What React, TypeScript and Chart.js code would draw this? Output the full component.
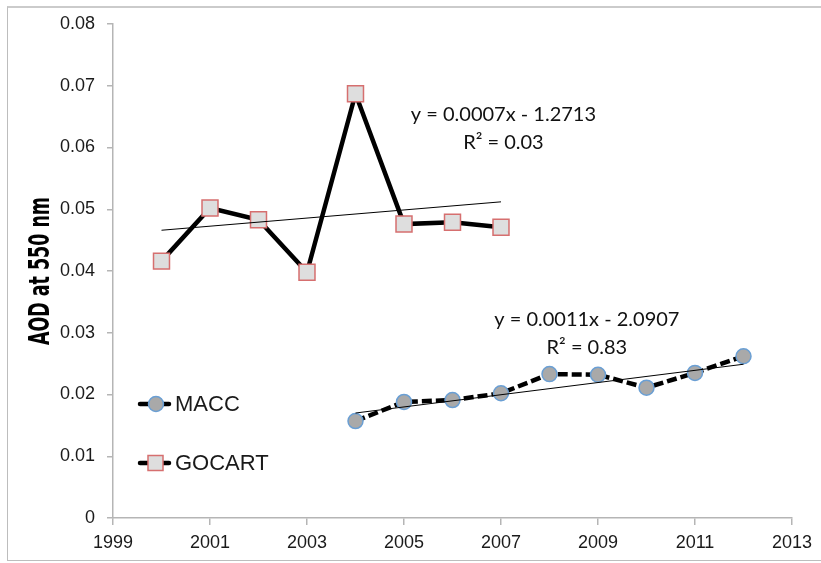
import React, { useEffect, useRef } from "react";
import { Chart, registerables } from "chart.js";

Chart.register(...registerables);

// ---- data ----
const gocartYears = [2000, 2001, 2002, 2003, 2004, 2005, 2006, 2007];
const gocartAod = [0.0416, 0.0502, 0.0483, 0.0398, 0.0687, 0.0476, 0.0479, 0.0471];
const maccYears = [2004, 2005, 2006, 2007, 2008, 2009, 2010, 2011, 2012];
const maccAod = [0.0157, 0.0188, 0.0191, 0.0202, 0.0233, 0.0232, 0.0211, 0.0235, 0.0262];
const gocartTrendYears = [2000, 2007];
const gocartTrendAod = [0.0466, 0.0512];
const maccTrendYears = [2004, 2012];
const maccTrendAod = [0.0170, 0.0249];
const gocartTrendText = ["y = 0.0007x - 1.2713", "R² = 0.03"];
const maccTrendText = ["y = 0.0011x - 2.0907", "R² = 0.83"];
const seriesLabels = ["MACC", "GOCART"];
const yAxisTitle = "AOD at 550 nm";
const xRange = [1999, 2013];
const yRange = [0, 0.08];

// ---- layout / style (not data) ----
const W = 821;
const H = 563;
const TICK_FONT = { family: "'Liberation Sans', Arial, Helvetica, sans-serif", size: 18 };
const ANNOT_FONT = "20px Lato, 'Open Sans', sans-serif";
const gocartAnnotAt = { x: 2007.05, y: 0.0653, dy: 28 };
const maccAnnotAt = { x: 2008.77, y: 0.0321, dy: 28 };

const pts = (xs: number[], ys: number[]) => xs.map((x, i) => ({ x, y: ys[i] }));

const annotPlugin = {
  id: "annot",
  afterDatasetsDraw(chart: any) {
    const { ctx, scales, chartArea } = chart;
    ctx.save();
    ctx.fillStyle = "#111";
    ctx.font = ANNOT_FONT;
    ctx.textAlign = "center";
    ctx.textBaseline = "middle";
    const draw = (lines: string[], at: { x: number; y: number; dy: number }) => {
      const px = scales.x.getPixelForValue(at.x);
      const py = scales.y.getPixelForValue(at.y);
      lines.forEach((t, i) => ctx.fillText(t, px, py + i * at.dy));
    };
    draw(gocartTrendText, gocartAnnotAt);
    draw(maccTrendText, maccAnnotAt);

    // legend inside plot
    const left = chartArea.left;
    const items = [
      { label: seriesLabels[0], y: 404, style: "circle" },
      { label: seriesLabels[1], y: 463, style: "rect" },
    ];
    items.forEach((it) => {
      ctx.strokeStyle = "#000";
      ctx.lineWidth = 4.5;
      ctx.setLineDash([]);
      ctx.lineCap = "round";
      ctx.beginPath();
      ctx.moveTo(left + 27, it.y);
      ctx.lineTo(left + 56, it.y);
      ctx.stroke();
      ctx.lineCap = "butt";
      ctx.lineWidth = 1.5;
      if (it.style === "circle") {
        ctx.beginPath();
        ctx.arc(left + 43, it.y, 7.5, 0, Math.PI * 2);
        ctx.fillStyle = "#a9a9a9";
        ctx.fill();
        ctx.strokeStyle = "#6a9fd4";
        ctx.stroke();
      } else {
        ctx.fillStyle = "#dedede";
        ctx.fillRect(left + 35, it.y - 7.5, 15, 15);
        ctx.strokeStyle = "#d66f6f";
        ctx.strokeRect(left + 35, it.y - 7.5, 15, 15);
      }
      ctx.fillStyle = "#1a1a1a";
      ctx.font = "22px 'Liberation Sans', Arial, sans-serif";
      ctx.textAlign = "left";
      ctx.textBaseline = "middle";
      ctx.fillText(it.label, left + 62, it.y + 1);
    });

    // y-axis title (heavy condensed)
    ctx.font = "bold 29px 'DejaVu Sans', sans-serif";
    const tw = ctx.measureText(yAxisTitle).width;
    const target = 148;
    const cy = (chartArea.top + chartArea.bottom) / 2;
    ctx.translate(40, cy);
    ctx.rotate(-Math.PI / 2);
    ctx.scale(target / tw, 1);
    ctx.fillStyle = "#000";
    ctx.textAlign = "center";
    ctx.textBaseline = "middle";
    ctx.fillText(yAxisTitle, 0, 1);
    ctx.restore();
  },
};

export default function App() {
  const ref = useRef<HTMLCanvasElement | null>(null);
  useEffect(() => {
    if (!ref.current) return;
    const chart = new Chart(ref.current, {
      type: "line",
      data: {
        datasets: [
          {
            label: "GOCART trend",
            data: pts(gocartTrendYears, gocartTrendAod),
            borderColor: "#000",
            borderWidth: 1,
            pointRadius: 0,
            order: 0,
          },
          {
            label: "MACC trend",
            data: pts(maccTrendYears, maccTrendAod),
            borderColor: "#000",
            borderWidth: 1,
            pointRadius: 0,
            order: 0,
          },
          {
            label: seriesLabels[0],
            data: pts(maccYears, maccAod),
            borderColor: "#000",
            borderWidth: 4.5,
            borderDash: [10, 4],
            pointStyle: "circle",
            pointRadius: 7.5,
            pointBackgroundColor: "#a9a9a9",
            pointBorderColor: "#6a9fd4",
            pointBorderWidth: 1.5,
            order: 1,
          },
          {
            label: seriesLabels[1],
            data: pts(gocartYears, gocartAod),
            borderColor: "#000",
            borderWidth: 4.5,
            pointStyle: "rect",
            pointRadius: 11.3,
            pointBackgroundColor: "#dedede",
            pointBorderColor: "#d66f6f",
            pointBorderWidth: 1.5,
            order: 1,
          },
        ],
      },
      options: {
        responsive: false,
        animation: false,
        devicePixelRatio: 1,
        layout: { padding: { left: 0, right: 29, top: 24, bottom: 0 } },
        plugins: { legend: { display: false }, tooltip: { enabled: false } },
        elements: { line: { tension: 0 } },
        scales: {
          x: {
            type: "linear",
            min: xRange[0],
            max: xRange[1],
            border: { color: "#b5b5b5", width: 1.5 },
            grid: { drawOnChartArea: false, drawTicks: true, tickLength: 7, color: "#b5b5b5", lineWidth: 1.5 },
            ticks: {
              stepSize: 2,
              padding: 7,
              color: "#1a1a1a",
              font: TICK_FONT,
              maxRotation: 0,
              callback: (v: any) => String(v),
            },
            afterFit: (s: any) => {
              s.height = H - 518;
            },
          },
          y: {
            type: "linear",
            min: yRange[0],
            max: yRange[1],
            border: { color: "#b5b5b5", width: 1.5 },
            grid: { drawOnChartArea: false, drawTicks: true, tickLength: 6, color: "#b5b5b5", lineWidth: 1.5 },
            ticks: {
              stepSize: 0.01,
              padding: 12,
              color: "#1a1a1a",
              font: TICK_FONT,
              callback: (v: any) => (Math.abs(v) < 1e-9 ? "0" : Number(v).toFixed(2)),
            },
            afterFit: (s: any) => {
              s.width = 113;
            },
          },
        },
      },
      plugins: [annotPlugin],
    });
    return () => chart.destroy();
  }, []);
  return (
    <div style={{ position: "absolute", left: 0, top: 0, width: W, height: H, overflow: "hidden", background: "#fff" }}>
      <div
        style={{
          position: "absolute",
          left: 7,
          top: 6,
          width: W - 7,
          height: 555,
          borderTop: "2px solid #cbcbcb",
          borderLeft: "1px solid #bdbdbd",
          borderBottom: "1px solid #bdbdbd",
          boxSizing: "border-box",
        }}
      />
      <canvas ref={ref} width={W} height={H} style={{ position: "absolute", left: 0, top: 0, width: W, height: H }} />
    </div>
  );
}
